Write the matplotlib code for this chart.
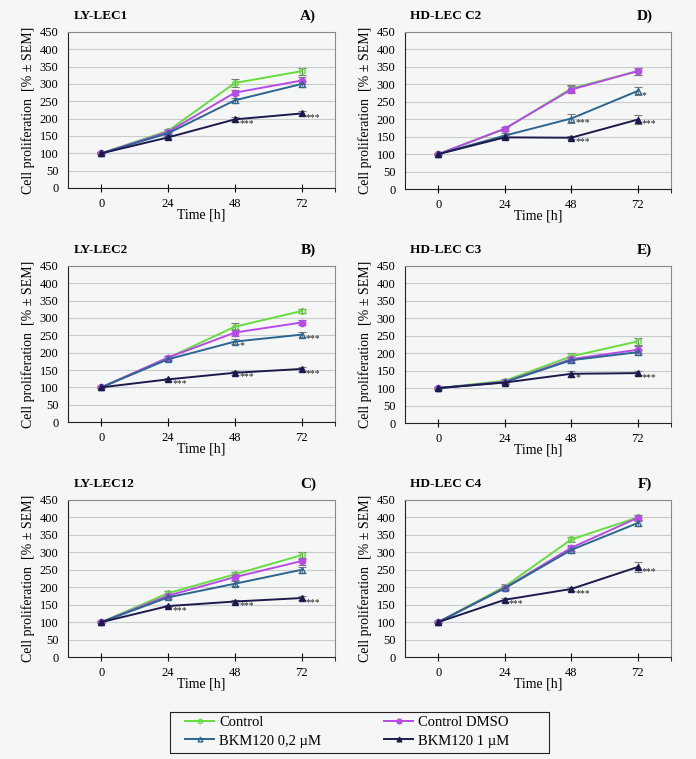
import matplotlib
matplotlib.use("Agg")
import matplotlib.pyplot as plt
from matplotlib.patches import Rectangle

plt.rcParams['font.family'] = ['Liberation Serif', 'DejaVu Serif']

# time points and series labels
times = ["0", "24", "48", "72"]
series = ["Control", "Control DMSO", "BKM120 0,2 \u00b5M", "BKM120 1 \u00b5M"]

# panel titles
titles = ["LY-LEC1", "LY-LEC2", "LY-LEC12", "HD-LEC C2", "HD-LEC C3", "HD-LEC C4"]
letters = ["A)", "B)", "C)", "D)", "E)", "F)"]

# values per panel: control, DMSO, 0.2 uM, 1 uM
ly_lec1 = [[100, 165, 303, 337], [100, 162, 275, 310], [100, 158, 253, 300], [100, 146, 198, 215]]
ly_lec2 = [[100, 185, 275, 320], [100, 186, 258, 287], [100, 181, 232, 252], [100, 123, 142, 153]]
ly_lec12 = [[100, 183, 237, 292], [100, 176, 229, 275], [100, 171, 210, 250], [100, 146, 159, 169]]
hd_c2 = [[100, 172, 288, 338], [100, 173, 285, 338], [100, 153, 202, 281], [100, 148, 147, 199]]
hd_c3 = [[100, 121, 191, 234], [100, 118, 183, 210], [100, 117, 180, 203], [100, 116, 141, 143]]
hd_c4 = [[100, 202, 337, 400], [100, 198, 313, 399], [100, 197, 307, 384], [100, 164, 195, 258]]

# SEM per panel
ly_lec1_err = [[3, 5, 12, 10], [3, 5, 8, 10], [3, 5, 7, 8], [3, 4, 7, 7]]
ly_lec2_err = [[3, 5, 10, 5], [3, 5, 10, 7], [3, 5, 8, 7], [3, 5, 6, 6]]
ly_lec12_err = [[3, 6, 8, 10], [3, 5, 8, 10], [3, 5, 7, 8], [3, 4, 5, 6]]
hd_c2_err = [[3, 6, 10, 10], [3, 6, 10, 10], [3, 7, 12, 12], [3, 6, 5, 13]]
hd_c3_err = [[3, 4, 10, 10], [3, 4, 8, 10], [3, 4, 7, 7], [3, 4, 8, 6]]
hd_c4_err = [[3, 7, 8, 8], [3, 6, 8, 8], [3, 6, 8, 8], [3, 5, 6, 14]]

# significance marks: (series index, time index, text)
ly_lec1_sig = [(3, 2, "***"), (3, 3, "***")]
ly_lec2_sig = [(2, 2, "*"), (2, 3, "***"), (3, 1, "***"), (3, 2, "***"), (3, 3, "***")]
ly_lec12_sig = [(3, 1, "***"), (3, 2, "***"), (3, 3, "***")]
hd_c2_sig = [(2, 2, "***"), (2, 3, "*"), (3, 2, "***"), (3, 3, "***")]
hd_c3_sig = [(3, 2, "*"), (3, 3, "***")]
hd_c4_sig = [(3, 1, "***"), (3, 2, "***"), (3, 3, "***")]

panels = [(ly_lec1, ly_lec1_err, ly_lec1_sig), (ly_lec2, ly_lec2_err, ly_lec2_sig),
          (ly_lec12, ly_lec12_err, ly_lec12_sig), (hd_c2, hd_c2_err, hd_c2_sig),
          (hd_c3, hd_c3_err, hd_c3_sig), (hd_c4, hd_c4_err, hd_c4_sig)]

colors = ["#66dd3c", "#b84ae8", "#2b6590", "#1c1a4c"]
markers = ["o", "o", "^", "^"]
fills = ["none", "#b84ae8", "none", "#1c1a4c"]
bg = "#f5f7f7"

W, H = 696, 759
fig = plt.figure(figsize=(W / 100, H / 100), dpi=100, facecolor=bg)

# axes boxes in pixels: left, top, width, height
boxes = [(68, 32, 267, 156), (68, 266, 267, 156), (68, 500, 267, 157),
         (405, 32, 266, 157), (405, 266, 266, 157), (405, 500, 266, 157)]

x = list(range(len(times)))
handles = []
for i, (vals, errs, sigs) in enumerate(panels):
    l, t, w, h = boxes[i]
    ax = fig.add_axes([l / W, 1 - (t + h) / H, w / W, h / H])
    ax.set_facecolor(bg)
    ax.set_ylim(0, 450)
    ax.set_yticks(range(0, 451, 50))
    ax.set_xlim(-0.5, 3.5)
    ax.set_xticks(x)
    ax.set_xticklabels(times)
    ax.set_xticks([3.5], minor=True)
    ax.yaxis.grid(True, color="#c8cccc", lw=0.8)
    ax.set_axisbelow(True)
    ax.tick_params(axis="y", length=0, labelsize=9, pad=7)
    ax.tick_params(axis="x", which="both", direction="inout", length=6, labelsize=9, pad=4)
    for s in ["top", "right"]:
        ax.spines[s].set_color("#8a8a8a")
    for s in ["left", "bottom"]:
        ax.spines[s].set_color("#222222")
    ax.set_xlabel("Time [h]", fontsize=10, labelpad=-1)
    ax.set_ylabel("Cell proliferation  [% \u00b1 SEM]", fontsize=10, labelpad=3)

    for k in range(4):
        ax.errorbar(x, vals[k], yerr=errs[k], fmt="none", ecolor="#7a7a7a",
                    elinewidth=0.8, capsize=3, capthick=0.8, zorder=2)
        ln, = ax.plot(x, vals[k], color=colors[k], lw=1.4, marker=markers[k],
                      markersize=4.5 if k != 0 else 4, markerfacecolor=fills[k],
                      markeredgecolor=colors[k], zorder=3)
        if i == 0:
            handles.append(ln)
    for k, j, txt in sigs:
        ax.annotate(txt, (x[j], vals[k][j]), xytext=(3, -3), textcoords="offset points",
                    fontsize=7, color="#222222", ha="left", va="center")

    ax.text(0.02, 1 + 16 / h, titles[i], transform=ax.transAxes, fontsize=9.5,
            fontweight="bold", ha="left", va="center")
    ax.text(0.93, 1 + 16 / h, letters[i], transform=ax.transAxes, fontsize=11,
            fontweight="bold", ha="right", va="center")

# legend box drawn by hand, two one-column legends inside
fig.patches.append(Rectangle((170 / W, 1 - 753 / H), 379 / W, 41 / H, transform=fig.transFigure,
                             fill=False, edgecolor="#222222", lw=0.8))
for col, x0 in [([0, 2], 185), ([1, 3], 384)]:
    fig.legend([handles[o] for o in col], [series[o] for o in col], ncol=1,
               loc="upper left", bbox_to_anchor=(x0 / W, 1 - 716 / H),
               fontsize=10.5, frameon=False, handlelength=2.0, borderpad=0,
               labelspacing=0.35, handletextpad=0.35, borderaxespad=0,
               markerscale=0.75)

fig.savefig("out.png", dpi=100, facecolor=bg)
